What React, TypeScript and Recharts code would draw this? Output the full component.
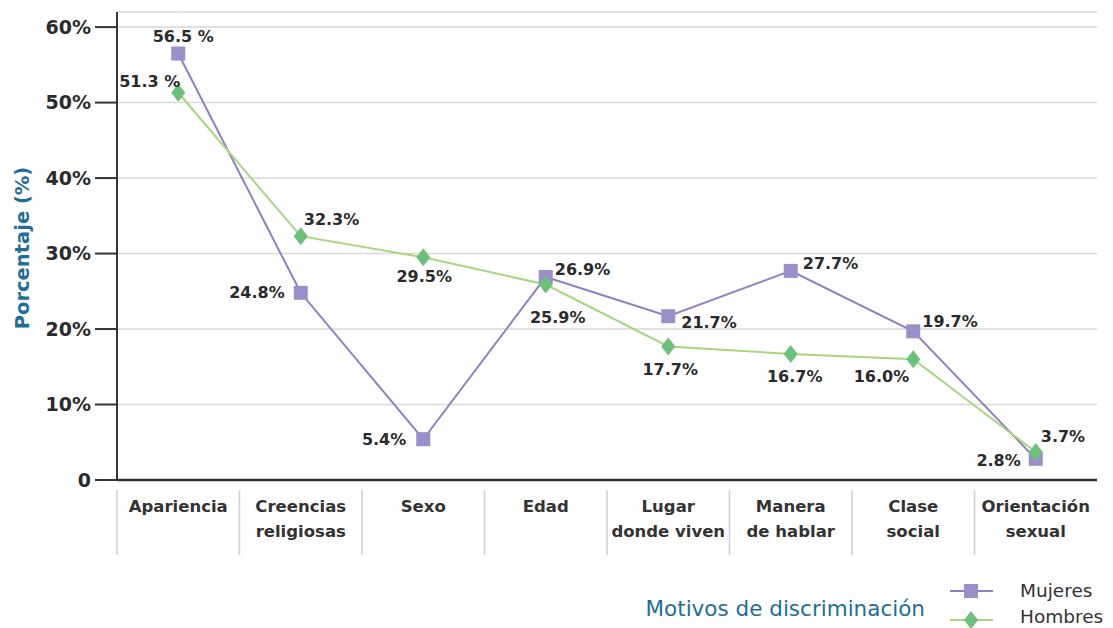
import { LineChart, Line, XAxis, YAxis, CartesianGrid, LabelList, Label } from 'recharts'

const CATEGORIES = [
  'Apariencia',
  'Creencias\nreligiosas',
  'Sexo',
  'Edad',
  'Lugar\ndonde viven',
  'Manera\nde hablar',
  'Clase\nsocial',
  'Orientación\nsexual',
]
const MUJERES = [56.5, 24.8, 5.4, 26.9, 21.7, 27.7, 19.7, 2.8]
const HOMBRES = [51.3, 32.3, 29.5, 25.9, 17.7, 16.7, 16.0, 3.7]
const MUJERES_LABELS = ['56.5 %', '24.8%', '5.4%', '26.9%', '21.7%', '27.7%', '19.7%', '2.8%']
const HOMBRES_LABELS = ['51.3 %', '32.3%', '29.5%', '25.9%', '17.7%', '16.7%', '16.0%', '3.7%']
const Y_TICKS = [0, 10, 20, 30, 40, 50, 60]

// label placement next to each point: [dx, dy, anchor]
const MUJERES_POS: [number, number, string][] = [
  [5, -17, 'middle'], [-16, 0, 'end'], [-17, 0, 'end'], [9, -7, 'start'],
  [13, 6, 'start'], [12, -7, 'start'], [9, -10, 'start'], [-15, 2, 'end'],
]
const HOMBRES_POS: [number, number, string][] = [
  [2, -11, 'end'], [3, -17, 'start'], [1, 19, 'middle'], [12, 33, 'middle'],
  [2, 23, 'middle'], [4, 23, 'middle'], [-4, 17, 'end'], [5, -16, 'start'],
]

const FONT = '"DejaVu Sans", sans-serif'
const PURPLE = '#8f7fc2'
const PURPLE_MARK = '#9a8fc8'
const GREEN = '#a8d67e'
const GREEN_MARK = '#6cc17a'
const BAND = 980 / CATEGORIES.length

const data = CATEGORIES.map((c, i) => ({ name: c, mujeres: MUJERES[i], hombres: HOMBRES[i] }))

const Square = (props: any) => {
  const { cx, cy, index } = props
  return <rect key={'m' + index} x={cx - 7} y={cy - 7} width={14} height={14} fill={PURPLE_MARK} />
}

const Diamond = (props: any) => {
  const { cx, cy, index } = props
  return (
    <polygon
      key={'h' + index}
      points={`${cx},${cy - 9} ${cx + 7},${cy} ${cx},${cy + 9} ${cx - 7},${cy}`}
      fill={GREEN_MARK}
    />
  )
}

const pointLabel = (labels: string[], pos: [number, number, string][]) => (props: any) => {
  const { x, y, index } = props
  const [dx, dy, anchor] = pos[index]
  return (
    <text
      x={x + dx}
      y={y + dy}
      textAnchor={anchor as any}
      dominantBaseline="central"
      fontFamily={FONT}
      fontWeight={700}
      fontSize={16}
      fill="#2b2b2b"
    >
      {labels[index]}
    </text>
  )
}

const CategoryTick = (props: any) => {
  const { x, y, payload } = props
  const lines = String(payload.value).split('\n')
  return (
    <g>
      <line x1={x - BAND / 2} x2={x - BAND / 2} y1={y + 10} y2={y + 75} stroke="#cfcfcf" strokeWidth={1.5} />
      {lines.map((l, i) => (
        <text
          key={i}
          x={x}
          y={y + 26 + i * 25}
          textAnchor="middle"
          dominantBaseline="central"
          fontFamily={FONT}
          fontWeight={700}
          fontSize={16.5}
          fill="#333"
        >
          {l}
        </text>
      ))}
    </g>
  )
}

export default function App() {
  return (
    <div style={{ position: 'absolute', left: 0, top: 0, width: 1113, height: 628, background: '#fff', overflow: 'hidden' }}>
      <LineChart width={1113} height={628} data={data} margin={{ top: 12, right: 16, left: 0, bottom: 0 }}>
        <CartesianGrid vertical={false} stroke="#d9d9d9" strokeWidth={1.5} />
        <XAxis
          dataKey="name"
          height={148}
          interval={0}
          padding={{ left: BAND / 2, right: BAND / 2 }}
          tickLine={false}
          tickSize={0}
          tickMargin={0}
          axisLine={{ stroke: '#333', strokeWidth: 2.5 }}
          tick={<CategoryTick />}
        >
          <Label
            content={(p: any) => (
              <text
                x={p.viewBox.x + p.viewBox.width - 172}
                y={p.viewBox.y + 128}
                textAnchor="end"
                dominantBaseline="central"
                fontFamily={FONT}
                fontSize={21.5}
                fill="#1e6e97"
              >
                Motivos de discriminación
              </text>
            )}
          />
        </XAxis>
        <YAxis
          width={117}
          domain={[0, 62]}
          ticks={Y_TICKS}
          interval={0}
          tickSize={22}
          tickMargin={4}
          axisLine={{ stroke: '#333', strokeWidth: 2 }}
          tickLine={{ stroke: '#333', strokeWidth: 2 }}
          tickFormatter={(v: number) => (v === 0 ? '0' : `${v}%`)}
          tick={{ fontFamily: FONT, fontWeight: 700, fontSize: 19, fill: '#2b2b2b' }}
        >
          <Label
            content={(p: any) => (
              <text
                x={22}
                y={p.viewBox.y + p.viewBox.height / 2 + 2}
                transform={`rotate(-90, 22, ${p.viewBox.y + p.viewBox.height / 2 + 2})`}
                textAnchor="middle"
                dominantBaseline="central"
                fontFamily={FONT}
                fontWeight={700}
                fontSize={19.5}
                fill="#1e6e97"
              >
                Porcentaje (%)
              </text>
            )}
          />
        </YAxis>
        <Line
          dataKey="mujeres"
          stroke={PURPLE}
          strokeWidth={2}
          dot={Square}
          activeDot={false}
          isAnimationActive={false}
        >
          <LabelList dataKey="mujeres" content={pointLabel(MUJERES_LABELS, MUJERES_POS)} />
        </Line>
        <Line
          dataKey="hombres"
          stroke={GREEN}
          strokeWidth={2}
          dot={Diamond}
          activeDot={false}
          isAnimationActive={false}
        >
          <LabelList dataKey="hombres" content={pointLabel(HOMBRES_LABELS, HOMBRES_POS)} />
        </Line>
      </LineChart>
      <svg width={60} height={60} style={{ position: 'absolute', left: 945, top: 575 }}>
        <line x1={5} x2={48} y1={16} y2={16} stroke={PURPLE} strokeWidth={2} />
        <rect x={19} y={9} width={14} height={14} fill={PURPLE_MARK} />
        <line x1={5} x2={48} y1={45} y2={45} stroke={GREEN} strokeWidth={2} />
        <polygon points="26,36 33,45 26,54 19,45" fill={GREEN_MARK} />
      </svg>
      <div style={{ position: 'absolute', left: 1020, top: 578, fontFamily: FONT, fontSize: 18.5, color: '#333', lineHeight: '26px' }}>
        <div>Mujeres</div>
        <div>Hombres</div>
      </div>
    </div>
  )
}
